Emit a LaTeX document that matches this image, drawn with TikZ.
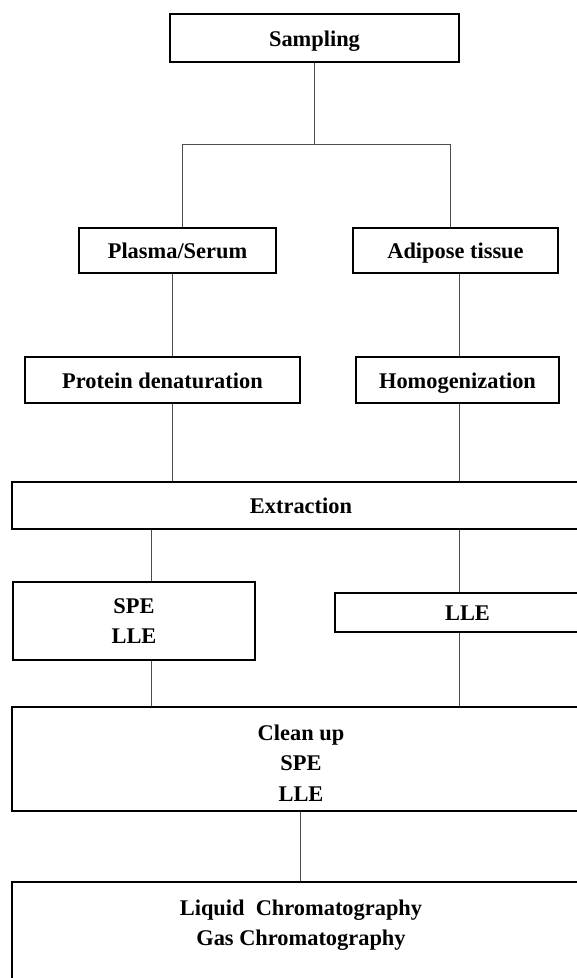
\documentclass[tikz,border=0pt]{standalone}
\usepackage{fontspec}
\setmainfont{Liberation Serif}
\usetikzlibrary{positioning}
\begin{document}
\begin{tikzpicture}[x = 1pt, y = -1pt,
                    main box/.style = {draw, rectangle, line width = 1.6pt, align = center, font = \fontsize{22.4}{30.5}\selectfont\bfseries},
                    one line/.style = {text height = 16pt, text depth = 0pt},
                    link/.style = {draw = black!70, line width = 1pt}]
                    \clip (0, 0) rectangle (577, 978);
                    \fill [white] (0, 0) rectangle (577, 978);
                    \node at (314.5, 38) [main box, one line, minimum width = 289pt, minimum height = 48pt] (sampling) {Sampling};
                    \node at (177.5, 250.5) [main box, one line, minimum width = 197pt, minimum height = 45pt] (plasma) {Plasma/Serum};
                    \node at (455.5, 250.5) [main box, one line, minimum width = 205pt, minimum height = 45pt] (adipose) {Adipose tissue};
                    \node at (162.5, 380) [main box, one line, minimum width = 275pt, minimum height = 46pt] (protein) {Protein denaturation};
                    \node at (457.5, 380) [main box, one line, minimum width = 203pt, minimum height = 46pt] (homogen) {Homogenization};
                    \node at (301, 505.5) [main box, one line, minimum width = 578pt, minimum height = 47pt] (extraction) {Extraction};
                    \node at (134, 621) [main box, minimum width = 242pt, minimum height = 78pt] (spelle) {SPE\\LLE};
                    \node at (467.5, 612.5) [main box, one line, minimum width = 265pt, minimum height = 39pt] (lle) {LLE};
                    \node at (301, 759) [main box, minimum width = 578pt, minimum height = 104pt] (cleanup) {\rule{0pt}{23pt}Clean up\\SPE\\LLE};
                    \node at (301, 941) [main box, minimum width = 578pt, minimum height = 118pt] (chrom) {};
                    \node [below = 15pt of chrom.north, align = center, font = \fontsize{22.4}{30.5}\selectfont\bfseries] (chromtext) {Liquid~ Chromatography\\Gas Chromatography};
                    \coordinate (split) at (314.5, 144);
                    \coordinate (splitL) at (182, 144);
                    \coordinate (splitR) at (450, 144);
                    \coordinate (colL) at (172, 0);
                    \coordinate (colR) at (459, 0);
                    \coordinate (colS) at (151, 0);
                    \coordinate (colM) at (300, 0);

                    \draw [link] (sampling) -- (split);
                    \draw [link] (splitL) -- (splitR);
                    \draw [link] (splitL) -- (splitL |- plasma.north);
                    \draw [link] (splitR) -- (splitR |- adipose.north);
                    \draw [link] (plasma.south -| colL) -- (protein.north -| colL);
                    \draw [link] (adipose.south -| colR) -- (homogen.north -| colR);
                    \draw [link] (protein.south -| colL) -- (extraction.north -| colL);
                    \draw [link] (homogen.south -| colR) -- (extraction.north -| colR);
                    \draw [link] (extraction.south -| colS) -- (spelle.north -| colS);
                    \draw [link] (extraction.south -| colR) -- (lle.north -| colR);
                    \draw [link] (spelle.south -| colS) -- (cleanup.north -| colS);
                    \draw [link] (lle.south -| colR) -- (cleanup.north -| colR);
                    \draw [link] (cleanup.south -| colM) -- (chrom.north -| colM);
                \end{tikzpicture}
\end{document}
